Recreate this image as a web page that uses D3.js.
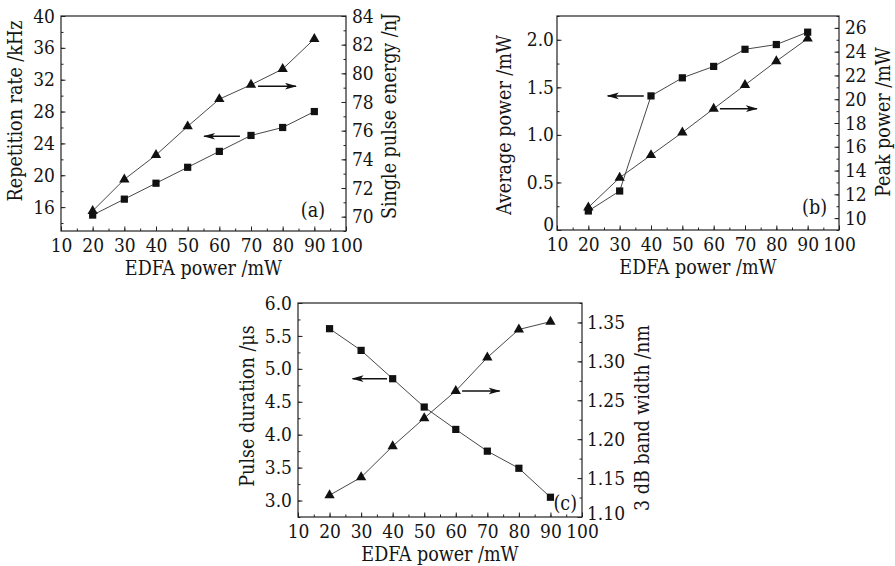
<!DOCTYPE html>
<html>
<head>
<meta charset="utf-8">
<script src="https://cdn.jsdelivr.net/npm/d3@7"></script>
<style>
  html, body { margin: 0; padding: 0; background: #fff; }
  svg text { font-family: "DejaVu Serif Condensed", "DejaVu Serif", serif; font-stretch: condensed; fill: #141414; }
</style>
</head>
<body>
<div id="chart"></div>
<script>
// EDFA pump power, shared by all three panels
const edfaPower = [20, 30, 40, 50, 60, 70, 80, 90];

// (a)
const repetitionRate = [15, 17, 19, 21, 23, 25, 26, 28];
const pulseEnergy = [70.4, 72.6, 74.3, 76.3, 78.2, 79.2, 80.3, 82.4];
// (b)
const averagePower = [0.2, 0.41, 1.41, 1.6, 1.72, 1.9, 1.95, 2.08];
const peakPower = [10.9, 13.4, 15.3, 17.2, 19.2, 21.2, 23.2, 25.1];
// (c)
const pulseDuration = [5.61, 5.28, 4.85, 4.42, 4.08, 3.75, 3.49, 3.05];
const bandWidth = [1.128, 1.151, 1.191, 1.227, 1.262, 1.305, 1.341, 1.351];

// tick values / labels
const xTicks = [10, 20, 30, 40, 50, 60, 70, 80, 90, 100];
const repTicks = [16, 20, 24, 28, 32, 36, 40];
const energyTicks = [70, 72, 74, 76, 78, 80, 82, 84];
const avgTicks = [0, 0.5, 1, 1.5, 2];
const avgLabels = ["0", "0.5", "1.0", "1.5", "2.0"];
const peakTicks = [10, 12, 14, 16, 18, 20, 22, 24, 26];
const durTicks = [3, 3.5, 4, 4.5, 5, 5.5, 6];
const durLabels = ["3.0", "3.5", "4.0", "4.5", "5.0", "5.5", "6.0"];
const bwTicks = [1.10, 1.15, 1.20, 1.25, 1.30, 1.35];
const bwLabels = ["1.10", "1.15", "1.20", "1.25", "1.30", "1.35"];

const W = 895, H = 566;
const TICK_FONT = 19, TITLE_FONT = 19.5;

const svg = d3.select("#chart").append("svg")
    .attr("width", W)
    .attr("height", H);

svg.append("defs").append("marker")
    .attr("id", "head")
    .attr("markerUnits", "userSpaceOnUse")
    .attr("viewBox", "0 0 12 8")
    .attr("refX", 11)
    .attr("refY", 4)
    .attr("markerWidth", 12)
    .attr("markerHeight", 8)
    .attr("orient", "auto")
    .append("path")
    .attr("d", "M0,0.6 L12,4 L0,7.4 L3,4 Z")
    .style("fill", "#111");

const panels = [
    {
        box: {left: 61, right: 346, top: 16, bottom: 231},
        yLeft: {domain: [13, 40], ticks: repTicks, labels: repTicks.map(String), minor: 2, values: repetitionRate,
                title: "Repetition rate /kHz", titleX: 22, titleY: 111, pad: 6},
        yRight: {domain: [69, 84], ticks: energyTicks, labels: energyTicks.map(String), minor: 1, values: pulseEnergy,
                 title: "Single pulse energy /nJ", titleX: 396, titleY: 116, pad: 6},
        xTitleY: 275,
        arrows: [
            {side: "left", x1: 66.5, x2: 55.2, y: 24.9},
            {side: "right", x1: 72.2, x2: 84.2, y: 79.1}
        ],
        tag: "(a)", tagDx: 21, tagDy: 14
    },
    {
        box: {left: 557, right: 839, top: 16, bottom: 230},
        yLeft: {domain: [0, 2.25], ticks: avgTicks, labels: avgLabels, minor: 0.25, values: averagePower,
                title: "Average power /mW", titleX: 511, titleY: 125, pad: 3},
        yRight: {domain: [9, 27], ticks: peakTicks, labels: peakTicks.map(String), minor: 1, values: peakPower,
                 title: "Peak power /mW", titleX: 890, titleY: 122, pad: 6},
        xTitleY: 274,
        arrows: [
            {side: "left", x1: 37.7, x2: 26.2, y: 1.41},
            {side: "right", x1: 62, x2: 73.8, y: 19.2}
        ],
        tag: "(b)", tagDx: 12, tagDy: 16
    },
    {
        box: {left: 298, right: 582, top: 303, bottom: 517},
        yLeft: {domain: [2.75, 6], ticks: durTicks, labels: durLabels, minor: 0.25, values: pulseDuration,
                title: "Pulse duration /\u03bcs", titleX: 254, titleY: 406, pad: 6},
        yRight: {domain: [1.10, 1.375], ticks: bwTicks, labels: bwLabels, minor: 0.025, values: bandWidth,
                 title: "3 dB band width /nm", titleX: 649, titleY: 418, pad: 5},
        xTitleY: 561,
        arrows: [
            {side: "left", x1: 38.2, x2: 27.3, y: 4.85},
            {side: "right", x1: 62, x2: 73.9, y: 1.262}
        ],
        tag: "(c)", tagDx: 5, tagDy: 7
    }
];

function minorTicks(domain, step) {
    let out = [];
    let start = Math.ceil(domain[0] / step - 1e-9);
    for (let i = start; i * step <= domain[1] + 1e-9; i++) out.push(+(i * step).toFixed(4));
    return out;
}

panels.forEach(p => drawPanel(p));

function drawPanel(p) {
    const b = p.box;
    const x = d3.scaleLinear().domain([10, 100]).range([b.left, b.right]);
    const yL = d3.scaleLinear().domain(p.yLeft.domain).range([b.bottom, b.top]);
    const yR = d3.scaleLinear().domain(p.yRight.domain).range([b.bottom, b.top]);

    const g = svg.append("g");

    // minor ticks (inward, no labels)
    g.append("g")
        .attr("transform", "translate(0," + b.bottom + ")")
        .call(d3.axisBottom(x).tickValues(minorTicks([10, 100], 5)).tickSizeInner(-2.5).tickSizeOuter(0).tickFormat(""));
    g.append("g")
        .attr("transform", "translate(" + b.left + ",0)")
        .call(d3.axisLeft(yL).tickValues(minorTicks(p.yLeft.domain, p.yLeft.minor)).tickSizeInner(-2.5).tickSizeOuter(0).tickFormat(""));
    g.append("g")
        .attr("transform", "translate(" + b.right + ",0)")
        .call(d3.axisRight(yR).tickValues(minorTicks(p.yRight.domain, p.yRight.minor)).tickSizeInner(-2.5).tickSizeOuter(0).tickFormat(""));

    // major ticks
    g.append("g")
        .attr("class", "tk")
        .attr("transform", "translate(0," + b.bottom + ")")
        .call(d3.axisBottom(x).tickValues(xTicks).tickSizeInner(-4.5).tickSizeOuter(0).tickPadding(7.5).tickFormat(d3.format("d")));
    g.append("g")
        .attr("class", "tk")
        .attr("transform", "translate(" + b.left + ",0)")
        .call(d3.axisLeft(yL).tickValues(p.yLeft.ticks).tickSizeInner(-4.5).tickSizeOuter(0).tickPadding(p.yLeft.pad)
            .tickFormat((d, i) => p.yLeft.labels[i]));
    g.append("g")
        .attr("class", "tk")
        .attr("transform", "translate(" + b.right + ",0)")
        .call(d3.axisRight(yR).tickValues(p.yRight.ticks).tickSizeInner(-4.5).tickSizeOuter(0).tickPadding(p.yRight.pad)
            .tickFormat((d, i) => p.yRight.labels[i]));

    g.selectAll(".domain").remove();
    g.selectAll(".tick line").attr("stroke", "#222").attr("stroke-width", 1);
    g.selectAll(".tk text").style("font-size", TICK_FONT + "px").style("font-family", null).attr("fill", "#141414");
    // corner labels ("0" in (b), "1.10" in (c)) lifted a little, clear of the x labels
    g.selectAll(".tk text").filter(function () { return this.textContent === "0"; }).attr("dy", "0.05em");
    g.selectAll(".tk text").filter(function () { return this.textContent === "1.10"; }).attr("dy", "0.12em");

    // frame
    g.append("rect")
        .attr("x", b.left).attr("y", b.top)
        .attr("width", b.right - b.left).attr("height", b.bottom - b.top)
        .style("fill", "none").style("stroke", "#222").style("stroke-width", 1.2);

    // series: squares on left axis, triangles on right axis
    const lineL = d3.line().x((d, i) => x(edfaPower[i])).y(d => yL(d));
    const lineR = d3.line().x((d, i) => x(edfaPower[i])).y(d => yR(d));

    g.append("path").datum(p.yLeft.values).attr("d", lineL)
        .style("fill", "none").style("stroke", "#333").style("stroke-width", 0.9);
    g.append("path").datum(p.yRight.values).attr("d", lineR)
        .style("fill", "none").style("stroke", "#333").style("stroke-width", 0.9);

    const sq = d3.symbol().type(d3.symbolSquare).size(52);
    const tri = d3.symbol().type(d3.symbolTriangle).size(46);

    g.selectAll(".sq").data(p.yLeft.values).enter().append("path")
        .attr("transform", (d, i) => "translate(" + x(edfaPower[i]) + "," + yL(d) + ")")
        .attr("d", sq).style("fill", "#111");
    g.selectAll(".tri").data(p.yRight.values).enter().append("path")
        .attr("transform", (d, i) => "translate(" + x(edfaPower[i]) + "," + yR(d) + ")")
        .attr("d", tri).style("fill", "#111");

    // arrows pointing to the axis each curve belongs to
    p.arrows.forEach(a => {
        const ys = a.side === "left" ? yL : yR;
        g.append("line")
            .attr("x1", x(a.x1)).attr("y1", ys(a.y))
            .attr("x2", x(a.x2)).attr("y2", ys(a.y))
            .style("stroke", "#111").style("stroke-width", 1.5)
            .attr("marker-end", "url(#head)");
    });

    // titles
    g.append("text")
        .attr("x", (b.left + b.right) / 2).attr("y", p.xTitleY)
        .style("text-anchor", "middle").style("font-size", TITLE_FONT + "px")
        .text("EDFA power /mW");

    g.append("text")
        .attr("transform", "translate(" + p.yLeft.titleX + "," + p.yLeft.titleY + ") rotate(-90)")
        .style("text-anchor", "middle").style("font-size", TITLE_FONT + "px")
        .text(p.yLeft.title);

    g.append("text")
        .attr("transform", "translate(" + p.yRight.titleX + "," + p.yRight.titleY + ") rotate(-90)")
        .style("text-anchor", "middle").style("font-size", TITLE_FONT + "px")
        .text(p.yRight.title);

    g.append("text")
        .attr("x", b.right - p.tagDx).attr("y", b.bottom - p.tagDy)
        .style("text-anchor", "end").style("font-size", TITLE_FONT + "px")
        .text(p.tag);
}
</script>
</body>
</html>
